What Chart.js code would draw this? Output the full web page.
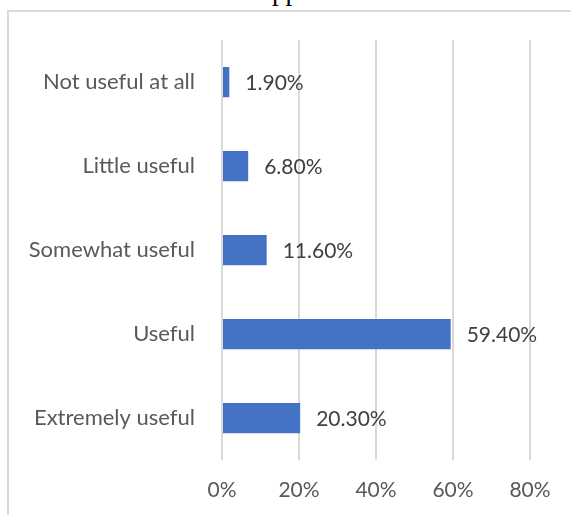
<!DOCTYPE html>
<html>
<head>
<meta charset="utf-8">
<script src="https://cdn.jsdelivr.net/npm/chart.js@4/dist/chart.umd.min.js"></script>
<style>
  html, body { margin: 0; padding: 0; background: #ffffff; }
  body { width: 571px; height: 515px; position: relative; overflow: hidden; }
  #frame {
    position: absolute; left: 7px; top: 10px; width: 700px; height: 700px;
    border: 2px solid #d9d9d9; box-sizing: border-box;
  }
  #title {
    position: absolute; left: 272px; top: 0; height: 6px; overflow: hidden;
    font-family: "Liberation Serif", serif; font-size: 27px; line-height: 27px;
    color: #000000; white-space: nowrap;
  }
  #title span { position: relative; top: -22px; }
  #chart { position: absolute; left: 0; top: 0; }
</style>
</head>
<body>
<div id="frame"></div>
<div id="title"><span>pp</span></div>
<canvas id="chart" width="571" height="515"></canvas>
<script>
// Survey responses: share of respondents per usefulness rating (%)
const categories = ["Not useful at all", "Little useful", "Somewhat useful", "Useful", "Extremely useful"];
const shares = [1.9, 6.8, 11.6, 59.4, 20.3];
const tickValues = [0, 20, 40, 60, 80];

const FONT = "Lato, 'Open Sans', sans-serif";

// Writes each bar's value just past its end
const valueLabels = {
  id: 'valueLabels',
  afterDatasetsDraw(chart) {
    const ctx = chart.ctx;
    const meta = chart.getDatasetMeta(0);
    ctx.save();
    ctx.font = "21px " + FONT;
    ctx.fillStyle = "#404040";
    ctx.textAlign = "left";
    ctx.textBaseline = "middle";
    meta.data.forEach((bar, i) => {
      ctx.fillText(shares[i].toFixed(2) + "%", bar.x + 16, bar.y + 1);
    });
    ctx.restore();
  }
};

new Chart(document.getElementById('chart'), {
  type: 'bar',
  data: {
    labels: categories,
    datasets: [{
      data: shares,
      backgroundColor: '#4472c4',
      borderWidth: 0,
      barPercentage: 0.36,
      categoryPercentage: 1
    }]
  },
  options: {
    indexAxis: 'y',
    responsive: false,
    animation: false,
    layout: { padding: { top: 40, right: 41, bottom: 0, left: 0 } },
    plugins: { legend: { display: false }, tooltip: { enabled: false } },
    scales: {
      x: {
        min: tickValues[0],
        max: tickValues[tickValues.length - 1],
        afterBuildTicks(scale) { scale.ticks = tickValues.map(v => ({ value: v })); },
        afterFit(scale) { scale.height = 55; },
        grid: { color: '#d9d9d9', lineWidth: 2, drawTicks: false },
        border: { display: false },
        ticks: {
          padding: 18,
          color: '#595959',
          font: { family: FONT, size: 21 },
          callback: v => v + '%'
        }
      },
      y: {
        afterFit(scale) { scale.width = 222; },
        grid: { display: false, drawTicks: false },
        border: { display: false },
        ticks: {
          padding: 27,
          color: '#595959',
          font: { family: FONT, size: 22 }
        }
      }
    }
  },
  plugins: [valueLabels]
});
</script>
</body>
</html>
